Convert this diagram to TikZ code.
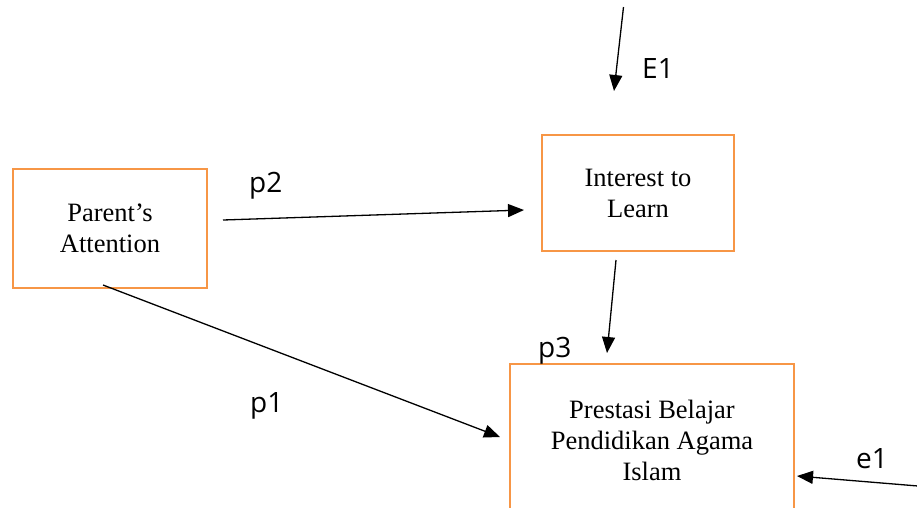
\documentclass[tikz,border=0pt]{standalone}
\usepackage{fontspec}
\setmainfont{Liberation Serif}
\newfontfamily\labelfont{Open Sans}
\usetikzlibrary{arrows.meta}
\definecolor{boxorange}{HTML}{F79646}
\tikzset{
  box/.style={draw=boxorange, line width=2.6pt, rectangle, inner sep=2pt, outer sep=0pt,
    align=center, font=\fontsize{26.5}{31}\selectfont},
  conn/.style={line width=1.3pt, -{Triangle[length=16pt,width=13pt]}},
  lbl/.style={font=\labelfont\fontsize{28}{32}\selectfont, inner sep=0pt, anchor=base west}
}
\begin{document}
\begin{tikzpicture}[x=1pt,y=-1pt]
\useasboundingbox (0,0) rectangle (917,507);
% boxes
\node[box, minimum width=194pt, minimum height=119pt] (pa) at (110,228.5) {Parent’s\\Attention};
\node[box, minimum width=192pt, minimum height=116pt] (il) at (638,193) {Interest to\\Learn};
\node[box, minimum width=284pt, minimum height=152pt] (pb) at (652,440) {Prestasi Belajar\\Pendidikan Agama\\Islam};
% connector end points
\coordinate (e1top) at (623.5,7);
\coordinate (e1tip) at (614,91);
\coordinate (p2s) at (223,220);
\coordinate (p2t) at (524,210);
\coordinate (p3s) at (616,260);
\coordinate (p3t) at (607,353);
\coordinate (p1s) at (103,285);
\coordinate (p1t) at (500,437);
\coordinate (e2s) at (918,486);
\coordinate (e2t) at (797,476);
% connectors
\draw[conn] (e1top) -- (e1tip);
\draw[conn] (p2s) -- (p2t);
\draw[conn] (p3s) -- (p3t);
\draw[conn] (p1s) -- (p1t);
\draw[conn] (e2s) -- (e2t);
% labels
\node[lbl] (lE1) at (642,78) {E1};
\node[lbl] (lp2) at (249,192) {p2};
\node[lbl] (lp3) at (538,357) {p3};
\node[lbl] (lp1) at (250,412) {p1};
\node[lbl] (le1) at (856,468) {e1};
\end{tikzpicture}
\end{document}
